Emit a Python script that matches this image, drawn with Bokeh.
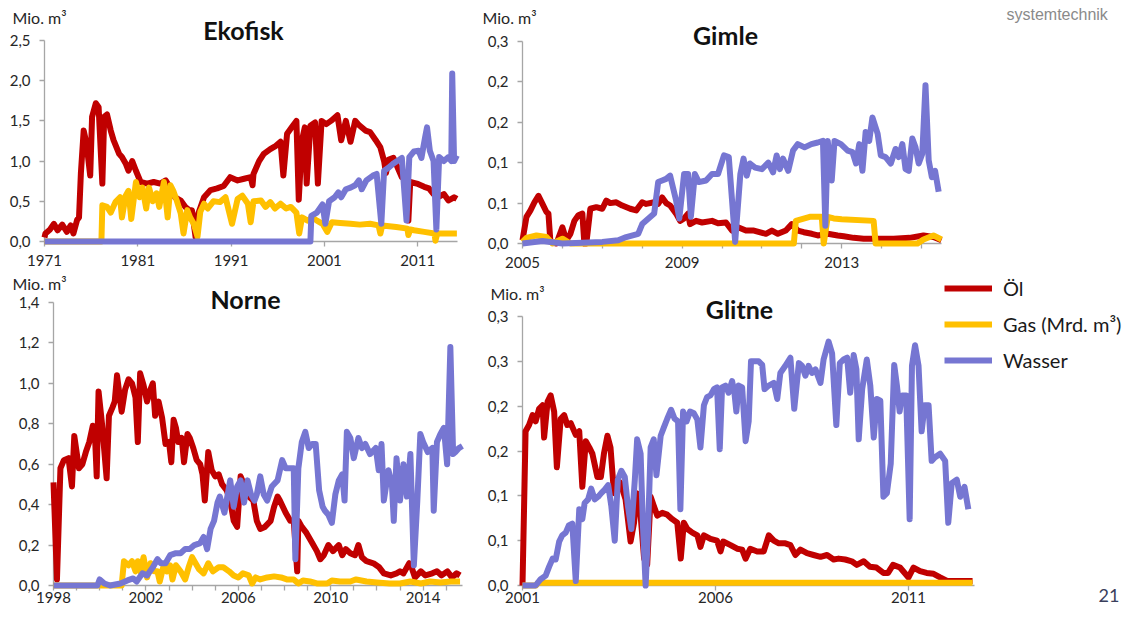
from bokeh.plotting import figure
from bokeh.layouts import column, row
from bokeh.models import Range1d, FixedTicker, Label, Legend, LegendItem
from bokeh.embed import file_html
from bokeh.resources import INLINE

# ---------------- DATA (year, value in Mio. m3) ----------------
eko_oil = [(1971.0, 0.05), (1971.1, 0.10), (1971.6, 0.15), (1972.0, 0.22), (1972.4, 0.14), (1972.9, 0.21),
           (1973.4, 0.12), (1973.8, 0.20), (1974.1, 0.10), (1974.5, 0.27), (1974.7, 0.30), (1974.9, 0.85),
           (1975.2, 1.38), (1975.5, 1.22), (1975.9, 0.82), (1976.1, 1.55), (1976.5, 1.72), (1976.8, 1.67),
           (1977.2, 0.72), (1977.4, 1.55), (1977.7, 1.58), (1978.1, 1.38), (1978.4, 1.26), (1979.0, 1.09),
           (1979.3, 1.05), (1979.7, 0.97), (1980.0, 0.88), (1980.4, 1.00), (1980.8, 0.88), (1981.3, 0.74),
           (1982.0, 0.72), (1982.7, 0.74), (1983.4, 0.72), (1984.0, 0.76), (1984.5, 0.66), (1985.0, 0.55),
           (1985.6, 0.51), (1986.1, 0.43), (1986.5, 0.39), (1986.8, 0.39), (1987.2, 0.05), (1987.5, 0.35),
           (1988.1, 0.55), (1988.8, 0.64), (1989.5, 0.66), (1990.2, 0.69), (1990.9, 0.80), (1991.7, 0.76),
           (1992.4, 0.78), (1993.1, 0.80), (1993.3, 0.70), (1993.4, 0.84), (1994.0, 1.00), (1994.5, 1.09),
           (1995.2, 1.15), (1995.8, 1.19), (1996.3, 1.24), (1996.6, 0.82), (1997.0, 1.34), (1997.5, 1.42),
           (1998.0, 1.50), (1998.25, 0.52), (1998.6, 1.26), (1998.9, 1.42), (1999.1, 0.72), (1999.5, 1.44),
           (2000.0, 1.48), (2000.3, 0.72), (2000.7, 1.50), (2001.2, 1.46), (2001.7, 1.50), (2002.4, 1.57),
           (2002.8, 1.26), (2003.3, 1.50), (2003.8, 1.24), (2004.3, 1.50), (2004.7, 1.45), (2005.4, 1.38),
           (2005.9, 1.36), (2006.5, 1.26), (2007.0, 1.17), (2007.4, 1.00), (2007.6, 0.85), (2007.9, 1.02),
           (2008.4, 1.04), (2009.0, 0.88), (2009.3, 0.80), (2009.9, 0.76), (2010.0, 0.26), (2010.2, 0.74),
           (2010.9, 0.72), (2011.7, 0.68), (2012.2, 0.66), (2012.7, 0.59), (2013.3, 0.56), (2013.8, 0.59),
           (2014.3, 0.51), (2014.9, 0.55), (2015.2, 0.53)]
eko_gas = [(1971.0, 0.0), (1977.1, 0.0), (1977.2, 0.45), (1977.7, 0.43), (1978.1, 0.36), (1978.6, 0.49),
           (1979.1, 0.55), (1979.3, 0.30), (1979.7, 0.57), (1980.0, 0.63), (1980.3, 0.28), (1980.8, 0.74),
           (1981.2, 0.55), (1981.5, 0.67), (1981.9, 0.41), (1982.2, 0.67), (1982.6, 0.50), (1983.0, 0.60),
           (1983.3, 0.43), (1983.8, 0.74), (1984.2, 0.30), (1984.5, 0.70), (1984.8, 0.63), (1985.2, 0.50),
           (1985.6, 0.35), (1985.9, 0.10), (1986.3, 0.39), (1986.6, 0.30), (1987.0, 0.22), (1987.4, 0.06),
           (1987.7, 0.37), (1988.1, 0.47), (1988.5, 0.41), (1989.1, 0.50), (1989.8, 0.49), (1990.4, 0.55),
           (1991.1, 0.22), (1991.7, 0.53), (1992.2, 0.57), (1992.8, 0.47), (1993.1, 0.24), (1993.4, 0.50),
           (1994.2, 0.51), (1994.7, 0.43), (1995.2, 0.49), (1995.7, 0.41), (1996.3, 0.47), (1996.9, 0.41),
           (1997.4, 0.43), (1998.0, 0.36), (1998.3, 0.10), (1998.6, 0.30), (1999.2, 0.26), (1999.7, 0.30),
           (2000.2, 0.26), (2000.8, 0.22), (2001.3, 0.12), (2001.8, 0.24), (2002.7, 0.23), (2003.8, 0.22),
           (2004.8, 0.21), (2005.9, 0.22), (2006.8, 0.20), (2007.0, 0.10), (2007.2, 0.20), (2008.7, 0.18),
           (2009.9, 0.16), (2010.0, 0.08), (2010.2, 0.15), (2010.6, 0.14), (2011.7, 0.12), (2012.8, 0.10),
           (2012.9, 0.01), (2013.1, 0.10), (2014.1, 0.10), (2015.2, 0.10)]
eko_water = [(1971.0, 0.0), (1999.5, 0.0), (1999.6, 0.32), (2000.2, 0.36), (2000.8, 0.46), (2001.1, 0.22),
             (2001.5, 0.50), (2002.1, 0.55), (2002.5, 0.61), (2002.8, 0.55), (2003.3, 0.65), (2003.8, 0.67),
             (2004.3, 0.70), (2004.7, 0.76), (2005.0, 0.65), (2005.5, 0.76), (2006.2, 0.82), (2006.6, 0.84),
             (2007.1, 0.22), (2007.4, 0.88), (2007.9, 0.92), (2008.4, 0.97), (2008.8, 1.00), (2009.3, 1.04),
             (2009.8, 0.26), (2010.1, 1.05), (2010.6, 1.12), (2011.1, 1.13), (2011.4, 1.04), (2011.8, 1.30),
             (2012.0, 1.42), (2012.3, 1.13), (2012.7, 1.00), (2013.0, 0.15), (2013.3, 1.05), (2013.8, 1.00),
             (2014.3, 1.05), (2014.6, 1.00), (2014.7, 2.09), (2014.9, 1.00), (2015.2, 1.07)]

gim_oil = [(2005.0, 0.004), (2005.1, 0.033), (2005.2, 0.041), (2005.3, 0.051), (2005.4, 0.059), (2005.5, 0.049),
           (2005.6, 0.039), (2005.65, 0.037), (2005.7, 0.002), (2005.85, 0.0), (2006.0, 0.020), (2006.1, 0.004),
           (2006.2, 0.012), (2006.3, 0.028), (2006.4, 0.035), (2006.5, 0.037), (2006.55, 0.0), (2006.6, 0.0),
           (2006.7, 0.043), (2006.85, 0.045), (2007.0, 0.043), (2007.1, 0.053), (2007.2, 0.050), (2007.35, 0.051),
           (2007.5, 0.047), (2007.7, 0.043), (2007.85, 0.041), (2008.0, 0.051), (2008.1, 0.049), (2008.3, 0.051),
           (2008.4, 0.049), (2008.5, 0.057), (2008.6, 0.050), (2008.7, 0.047), (2008.85, 0.037), (2008.95, 0.028),
           (2009.05, 0.031), (2009.15, 0.037), (2009.2, 0.024), (2009.35, 0.028), (2009.5, 0.026), (2009.75, 0.028),
           (2009.9, 0.025), (2010.1, 0.026), (2010.25, 0.016), (2010.4, 0.020), (2010.6, 0.016), (2010.8, 0.016),
           (2011.1, 0.012), (2011.25, 0.016), (2011.4, 0.012), (2011.6, 0.016), (2011.75, 0.024), (2011.9, 0.016),
           (2012.05, 0.014), (2012.25, 0.012), (2012.4, 0.010), (2012.65, 0.012), (2012.9, 0.010), (2013.05, 0.009),
           (2013.3, 0.007), (2013.55, 0.006), (2013.9, 0.006), (2014.3, 0.006), (2014.7, 0.007), (2015.05, 0.010),
           (2015.3, 0.008), (2015.5, 0.004)]
gim_gas = [(2005.0, 0.002), (2005.1, 0.007), (2005.35, 0.010), (2005.6, 0.008), (2005.75, 0.0), (2006.0, 0.006),
           (2006.2, 0.0), (2011.8, 0.0), (2011.85, 0.028), (2012.2, 0.033), (2012.5, 0.033), (2012.55, 0.0),
           (2012.65, 0.033), (2012.8, 0.031), (2013.0, 0.030), (2013.8, 0.028), (2013.85, 0.0), (2014.9, 0.0),
           (2015.05, 0.005), (2015.3, 0.010), (2015.5, 0.005)]
gim_water = [(2005.0, 0.0), (2005.5, 0.003), (2006.0, 0.0), (2007.0, 0.002), (2007.4, 0.004), (2007.6, 0.008),
             (2007.9, 0.012), (2008.0, 0.024), (2008.3, 0.037), (2008.4, 0.076), (2008.5, 0.078), (2008.6, 0.080),
             (2008.7, 0.084), (2008.85, 0.053), (2008.93, 0.031), (2009.05, 0.086), (2009.15, 0.086), (2009.22, 0.033),
             (2009.32, 0.086), (2009.42, 0.076), (2009.6, 0.078), (2009.75, 0.086), (2009.9, 0.086), (2010.05, 0.109),
             (2010.17, 0.107), (2010.33, 0.002), (2010.46, 0.086), (2010.54, 0.105), (2010.62, 0.084), (2010.7, 0.099),
             (2010.83, 0.094), (2011.0, 0.092), (2011.16, 0.100), (2011.28, 0.088), (2011.37, 0.109), (2011.45, 0.092),
             (2011.53, 0.105), (2011.66, 0.090), (2011.78, 0.115), (2011.9, 0.123), (2012.07, 0.119), (2012.24, 0.123),
             (2012.4, 0.125), (2012.53, 0.127), (2012.59, 0.022), (2012.65, 0.127), (2012.75, 0.078), (2012.82, 0.127),
             (2012.98, 0.123), (2013.15, 0.115), (2013.27, 0.113), (2013.36, 0.099), (2013.44, 0.123), (2013.52, 0.090),
             (2013.6, 0.138), (2013.69, 0.127), (2013.77, 0.156), (2013.9, 0.136), (2013.98, 0.109), (2014.1, 0.107),
             (2014.23, 0.099), (2014.35, 0.117), (2014.43, 0.107), (2014.52, 0.123), (2014.6, 0.092), (2014.68, 0.090),
             (2014.77, 0.130), (2014.85, 0.119), (2014.93, 0.099), (2015.02, 0.111), (2015.1, 0.196), (2015.18, 0.103),
             (2015.26, 0.082), (2015.34, 0.090), (2015.43, 0.064)]

nor_oil = [(1998.0, 0.51), (1998.15, 0.03), (1998.3, 0.58), (1998.45, 0.62), (1998.65, 0.63), (1998.8, 0.49),
           (1998.9, 0.74), (1999.1, 0.58), (1999.25, 0.60), (1999.4, 0.66), (1999.55, 0.71), (1999.7, 0.79),
           (1999.8, 0.73), (1999.87, 0.54), (1999.95, 0.96), (2000.1, 0.80), (2000.3, 0.53), (2000.4, 0.84),
           (2000.55, 0.88), (2000.65, 0.91), (2000.75, 1.04), (2000.95, 0.86), (2001.1, 0.97), (2001.25, 1.02),
           (2001.4, 1.00), (2001.55, 0.93), (2001.65, 0.71), (2001.75, 1.05), (2001.9, 0.99), (2002.05, 0.91),
           (2002.2, 0.97), (2002.3, 1.00), (2002.4, 0.84), (2002.55, 0.91), (2002.7, 0.83), (2002.85, 0.70),
           (2003.0, 0.71), (2003.1, 0.61), (2003.2, 0.82), (2003.3, 0.78), (2003.4, 0.71), (2003.55, 0.73),
           (2003.65, 0.61), (2003.8, 0.75), (2003.9, 0.73), (2004.05, 0.68), (2004.2, 0.62), (2004.35, 0.60),
           (2004.45, 0.55), (2004.55, 0.42), (2004.7, 0.66), (2004.85, 0.57), (2005.0, 0.54), (2005.15, 0.55),
           (2005.3, 0.50), (2005.5, 0.47), (2005.65, 0.42), (2005.8, 0.32), (2005.95, 0.29), (2006.1, 0.54),
           (2006.25, 0.50), (2006.45, 0.44), (2006.65, 0.42), (2006.8, 0.32), (2006.95, 0.28), (2007.15, 0.29),
           (2007.4, 0.32), (2007.55, 0.39), (2007.7, 0.44), (2007.8, 0.42), (2008.05, 0.36), (2008.25, 0.32),
           (2008.4, 0.32), (2008.55, 0.07), (2008.6, 0.32), (2008.75, 0.29), (2008.95, 0.26), (2009.2, 0.21),
           (2009.4, 0.17), (2009.55, 0.13), (2009.7, 0.15), (2009.9, 0.20), (2010.1, 0.17), (2010.35, 0.20),
           (2010.5, 0.15), (2010.65, 0.18), (2010.85, 0.16), (2011.05, 0.15), (2011.2, 0.20), (2011.35, 0.14),
           (2011.55, 0.12), (2011.85, 0.11), (2012.1, 0.09), (2012.3, 0.06), (2012.6, 0.05), (2012.85, 0.06),
           (2013.0, 0.07), (2013.15, 0.06), (2013.4, 0.11), (2013.5, 0.09), (2013.65, 0.04), (2013.9, 0.07),
           (2014.1, 0.05), (2014.4, 0.06), (2014.6, 0.07), (2014.8, 0.05), (2015.05, 0.07), (2015.25, 0.04),
           (2015.45, 0.06), (2015.6, 0.05)]
nor_gas = [(1998.0, 0.0), (2000.95, 0.0), (2001.05, 0.12), (2001.25, 0.10), (2001.4, 0.12), (2001.55, 0.07),
           (2001.65, 0.12), (2001.75, 0.07), (2001.9, 0.14), (2002.05, 0.04), (2002.2, 0.11), (2002.35, 0.07),
           (2002.5, 0.07), (2002.6, 0.02), (2002.75, 0.09), (2002.9, 0.07), (2003.05, 0.10), (2003.15, 0.03),
           (2003.3, 0.10), (2003.5, 0.07), (2003.7, 0.03), (2003.85, 0.09), (2004.0, 0.14), (2004.15, 0.11),
           (2004.3, 0.08), (2004.5, 0.06), (2004.7, 0.11), (2004.9, 0.07), (2005.15, 0.09), (2005.35, 0.09),
           (2005.6, 0.07), (2005.8, 0.05), (2006.0, 0.04), (2006.2, 0.06), (2006.45, 0.05), (2006.6, 0.01),
           (2006.75, 0.04), (2006.95, 0.03), (2007.25, 0.04), (2007.55, 0.045), (2007.85, 0.04), (2008.1, 0.03),
           (2008.4, 0.03), (2008.6, 0.01), (2008.8, 0.025), (2009.1, 0.02), (2009.4, 0.01), (2009.85, 0.01),
           (2010.05, 0.025), (2010.4, 0.02), (2010.85, 0.02), (2011.1, 0.03), (2011.55, 0.02), (2012.0, 0.015),
           (2012.55, 0.01), (2013.0, 0.01), (2013.45, 0.02), (2013.9, 0.01), (2014.3, 0.02), (2014.75, 0.015),
           (2015.2, 0.02), (2015.6, 0.02)]
nor_water = [(1998.0, 0.0), (1999.9, 0.0), (2000.0, 0.03), (2000.2, 0.01), (2000.45, 0.0), (2000.9, 0.01),
             (2001.2, 0.025), (2001.45, 0.035), (2001.6, 0.02), (2001.85, 0.06), (2002.05, 0.05), (2002.3, 0.09),
             (2002.5, 0.13), (2002.65, 0.11), (2002.85, 0.11), (2003.05, 0.15), (2003.3, 0.16), (2003.5, 0.16),
             (2003.7, 0.18), (2003.9, 0.18), (2004.1, 0.20), (2004.35, 0.21), (2004.5, 0.24), (2004.65, 0.18),
             (2004.8, 0.28), (2004.95, 0.32), (2005.1, 0.41), (2005.2, 0.44), (2005.4, 0.36), (2005.65, 0.52),
             (2005.8, 0.39), (2005.95, 0.49), (2006.1, 0.52), (2006.25, 0.41), (2006.4, 0.52), (2006.55, 0.45),
             (2006.7, 0.42), (2006.8, 0.45), (2006.95, 0.54), (2007.1, 0.45), (2007.25, 0.42), (2007.45, 0.49),
             (2007.7, 0.52), (2007.9, 0.62), (2008.05, 0.58), (2008.25, 0.58), (2008.4, 0.58), (2008.47, 0.13),
             (2008.6, 0.58), (2008.75, 0.71), (2008.9, 0.76), (2009.05, 0.68), (2009.2, 0.70), (2009.35, 0.70),
             (2009.5, 0.47), (2009.65, 0.39), (2009.75, 0.37), (2009.9, 0.35), (2010.05, 0.31), (2010.2, 0.45),
             (2010.35, 0.52), (2010.5, 0.55), (2010.6, 0.42), (2010.7, 0.76), (2010.85, 0.73), (2011.0, 0.63),
             (2011.2, 0.73), (2011.35, 0.68), (2011.5, 0.70), (2011.7, 0.65), (2011.95, 0.68), (2012.08, 0.57),
             (2012.2, 0.70), (2012.3, 0.42), (2012.5, 0.57), (2012.65, 0.50), (2012.73, 0.32), (2012.85, 0.63),
             (2013.0, 0.42), (2013.15, 0.60), (2013.3, 0.44), (2013.45, 0.65), (2013.6, 0.10), (2013.75, 0.42),
             (2013.88, 0.75), (2014.0, 0.71), (2014.2, 0.66), (2014.4, 0.68), (2014.46, 0.37), (2014.6, 0.71),
             (2014.75, 0.75), (2014.9, 0.78), (2015.04, 0.60), (2015.18, 1.18), (2015.3, 0.65), (2015.4, 0.66),
             (2015.55, 0.68), (2015.7, 0.69)]

gli_oil = [(2001.0, 0.0), (2001.08, 0.172), (2001.17, 0.179), (2001.26, 0.190), (2001.34, 0.183), (2001.43, 0.197),
           (2001.52, 0.201), (2001.56, 0.165), (2001.65, 0.205), (2001.73, 0.212), (2001.82, 0.194), (2001.89, 0.132),
           (2001.99, 0.186), (2002.08, 0.190), (2002.16, 0.179), (2002.25, 0.181), (2002.38, 0.168), (2002.47, 0.172),
           (2002.55, 0.110), (2002.64, 0.161), (2002.73, 0.154), (2002.81, 0.147), (2002.94, 0.121), (2003.03, 0.121),
           (2003.11, 0.147), (2003.2, 0.167), (2003.28, 0.154), (2003.37, 0.103), (2003.46, 0.118), (2003.54, 0.114),
           (2003.67, 0.096), (2003.8, 0.049), (2003.89, 0.070), (2003.96, 0.103), (2004.06, 0.078), (2004.15, 0.030),
           (2004.23, 0.023), (2004.32, 0.099), (2004.4, 0.089), (2004.49, 0.078), (2004.62, 0.081), (2004.75, 0.079),
           (2004.88, 0.074), (2005.01, 0.070), (2005.1, 0.030), (2005.18, 0.070), (2005.27, 0.063), (2005.4, 0.059),
           (2005.53, 0.056), (2005.61, 0.043), (2005.7, 0.056), (2005.87, 0.052), (2006.04, 0.050), (2006.13, 0.038),
           (2006.2, 0.049), (2006.39, 0.045), (2006.56, 0.041), (2006.69, 0.040), (2006.78, 0.030), (2006.9, 0.041),
           (2007.08, 0.038), (2007.25, 0.038), (2007.38, 0.056), (2007.51, 0.050), (2007.64, 0.047), (2007.81, 0.047),
           (2007.94, 0.045), (2008.07, 0.034), (2008.2, 0.040), (2008.37, 0.036), (2008.54, 0.034), (2008.72, 0.032),
           (2008.89, 0.034), (2009.06, 0.029), (2009.19, 0.030), (2009.36, 0.029), (2009.53, 0.027), (2009.66, 0.023),
           (2009.84, 0.027), (2010.0, 0.021), (2010.17, 0.020), (2010.35, 0.014), (2010.47, 0.014), (2010.6, 0.023),
           (2010.78, 0.020), (2011.0, 0.009), (2011.13, 0.020), (2011.3, 0.016), (2011.47, 0.014), (2011.65, 0.013),
           (2011.82, 0.009), (2012.0, 0.005), (2012.33, 0.005), (2012.66, 0.005)]
gli_gas = [(2001.0, 0.0), (2001.35, 0.0), (2001.4, 0.003), (2003.0, 0.003), (2005.0, 0.003), (2007.0, 0.003),
           (2009.0, 0.003), (2011.0, 0.003), (2012.66, 0.003)]
gli_water = [(2001.0, 0.0), (2001.34, 0.0), (2001.47, 0.007), (2001.6, 0.011), (2001.69, 0.021), (2001.78, 0.030),
             (2001.86, 0.029), (2001.95, 0.049), (2002.03, 0.056), (2002.12, 0.059), (2002.2, 0.067), (2002.29, 0.069),
             (2002.38, 0.005), (2002.47, 0.085), (2002.55, 0.074), (2002.61, 0.092), (2002.7, 0.096), (2002.78, 0.108),
             (2002.87, 0.096), (2002.96, 0.099), (2003.04, 0.103), (2003.13, 0.107), (2003.22, 0.112), (2003.3, 0.089),
             (2003.39, 0.050), (2003.47, 0.118), (2003.56, 0.128), (2003.65, 0.121), (2003.73, 0.089), (2003.82, 0.063),
             (2003.91, 0.118), (2003.97, 0.163), (2004.06, 0.147), (2004.12, 0.067), (2004.19, 0.0), (2004.25, 0.059),
             (2004.32, 0.154), (2004.4, 0.163), (2004.47, 0.123), (2004.58, 0.167), (2004.66, 0.176), (2004.75, 0.186),
             (2004.85, 0.196), (2004.94, 0.186), (2005.03, 0.183), (2005.09, 0.085), (2005.16, 0.194), (2005.25, 0.183),
             (2005.34, 0.194), (2005.44, 0.192), (2005.53, 0.185), (2005.61, 0.154), (2005.7, 0.201), (2005.78, 0.210),
             (2005.87, 0.212), (2005.96, 0.219), (2006.04, 0.221), (2006.11, 0.152), (2006.17, 0.221), (2006.26, 0.223),
             (2006.34, 0.215), (2006.43, 0.228), (2006.49, 0.215), (2006.54, 0.194), (2006.6, 0.223), (2006.69, 0.221),
             (2006.78, 0.161), (2006.86, 0.183), (2006.92, 0.250), (2007.01, 0.250), (2007.12, 0.250), (2007.21, 0.246),
             (2007.27, 0.219), (2007.38, 0.223), (2007.51, 0.226), (2007.6, 0.208), (2007.68, 0.237), (2007.81, 0.245),
             (2007.94, 0.254), (2008.04, 0.197), (2008.16, 0.248), (2008.24, 0.245), (2008.33, 0.234), (2008.41, 0.245),
             (2008.5, 0.237), (2008.59, 0.241), (2008.72, 0.226), (2008.8, 0.252), (2008.93, 0.272), (2009.02, 0.259),
             (2009.13, 0.179), (2009.22, 0.248), (2009.32, 0.252), (2009.41, 0.254), (2009.49, 0.215), (2009.58, 0.257),
             (2009.65, 0.241), (2009.71, 0.163), (2009.8, 0.219), (2009.92, 0.252), (2010.01, 0.223), (2010.1, 0.165),
             (2010.18, 0.208), (2010.27, 0.206), (2010.35, 0.099), (2010.44, 0.103), (2010.54, 0.136), (2010.63, 0.246),
             (2010.7, 0.223), (2010.77, 0.194), (2010.83, 0.212), (2010.94, 0.212), (2011.03, 0.074), (2011.09, 0.245),
             (2011.17, 0.268), (2011.26, 0.245), (2011.34, 0.172), (2011.42, 0.201), (2011.52, 0.201), (2011.6, 0.139),
             (2011.69, 0.143), (2011.82, 0.147), (2011.95, 0.139), (2012.03, 0.070), (2012.12, 0.114), (2012.25, 0.118),
             (2012.34, 0.099), (2012.45, 0.110), (2012.55, 0.085)]

# tick labels
eko_xticks = [1971, 1981, 1991, 2001, 2011]
eko_yticks = [0, 0.5, 1, 1.5, 2, 2.5]
eko_ylabels = ["0,0", "0,5", "1,0", "1,5", "2,0", "2,5"]
gim_xticks = list(range(2005, 2016))
gim_xlabeled = [2005, 2009, 2013]
gim_yticks = [0, 0.05, 0.1, 0.15, 0.2, 0.25]
gim_ylabels = ["0,0", "0,1", "0,1", "0,2", "0,2", "0,3"]
nor_xticks = list(range(1998, 2016))
nor_xlabeled = [1998, 2002, 2006, 2010, 2014]
nor_yticks = [0, 0.2, 0.4, 0.6, 0.8, 1, 1.2, 1.4]
nor_ylabels = ["0,0", "0,2", "0,4", "0,6", "0,8", "1,0", "1,2", "1,4"]
gli_xticks = [2001, 2006, 2011]
gli_xlabeled = [2001, 2006, 2011]
gli_yticks = [0, 0.05, 0.1, 0.15, 0.2, 0.25, 0.3]
gli_ylabels = ["0,0", "0,1", "0,1", "0,2", "0,2", "0,3", "0,3"]

series_names = ["Öl", "Gas (Mrd. m³)", "Wasser"]

# ---------------- STYLE ----------------
OIL, GAS, WATER = "#C00000", "#FFC000", "#7676D2"
AXIS = "#A6A6A6"
FONT = "Lato"
TXT = "#262626"
LW = 6


def panel(W, H, ox, oy, x0, px0, ppy, y_top, py0, pyt, x_axis_end, xticks, xlabeled, yticks, ylabels,
          xstandoff, series):
    """Whole figure is the frame; axes sit at fixed data locations.
    (ox, oy): page position of the figure; px0: page x of x0; py0 / pyt: page y of 0 / y_top."""
    fx0, fy0, fyt = px0 - ox, py0 - oy, pyt - oy
    xs0 = x0 - fx0 / ppy
    xs1 = xs0 + W / ppy
    scale = (fy0 - fyt) / y_top
    ys0 = -(H - fy0) / scale
    ys1 = y_top + fyt / scale
    p = figure(width=W, height=H, x_range=Range1d(xs0, xs1), y_range=Range1d(ys0, ys1),
               output_backend="svg", toolbar_location=None,
               min_border=0, min_border_left=0, min_border_right=0, min_border_top=0, min_border_bottom=0)
    p.title.visible = False
    p.outline_line_color = None
    p.xgrid.visible = False
    p.ygrid.visible = False
    p.background_fill_color = "white"
    p.border_fill_color = "white"
    for ax in (p.xaxis[0], p.yaxis[0]):
        ax.level = "underlay"
        ax.axis_line_color = AXIS
        ax.axis_line_width = 1.3
        ax.major_tick_line_color = AXIS
        ax.major_tick_line_width = 1.3
        ax.major_tick_out = 5
        ax.major_tick_in = 0
        ax.minor_tick_line_color = None
        ax.major_label_text_font = FONT
        ax.major_label_text_font_size = "15px"
        ax.major_label_text_color = TXT
    xa, ya = p.xaxis[0], p.yaxis[0]
    xa.fixed_location = 0
    xa.ticker = FixedTicker(ticks=xticks)
    xa.major_label_overrides = {t: (str(t) if t in xlabeled else "") for t in xticks}
    xa.major_label_standoff = xstandoff
    xa.bounds = (x0, x_axis_end)
    ya.fixed_location = x0
    ya.ticker = FixedTicker(ticks=yticks)
    ya.major_label_overrides = {t: lab for t, lab in zip(yticks, ylabels)}
    ya.major_label_standoff = 9
    ya.bounds = (0, y_top)
    renderers = []
    for data, col in zip(series, (OIL, GAS, WATER)):
        xs = [d[0] for d in data]
        ys = [d[1] for d in data]
        renderers.append(p.line(xs, ys, line_color=col, line_width=LW, line_join="round"))
    return p, renderers


def text(p, W, H, ox, oy, px, py, s, size, bold=False, align="left", color=TXT, font=FONT):
    # px, py: page position; converted to screen units of the figure (from its bottom-left)
    p.add_layout(Label(x=px - ox, y=H - (py - oy), x_units="screen", y_units="screen", text=s, text_font=font,
                       text_font_size=size, text_font_style="bold" if bold else "normal",
                       text_align=align, text_baseline="middle", text_color=color))


# ---------------- PANELS ----------------
W1, W2 = 478, 649
H1, H2 = 272, 333
X2, Y2 = W1, H1          # page origin of right column / lower row

pA, _ = panel(W1, H1, 0, 0, 1971, 44, 9.33, 2.5, 241, 40, 2015.3, eko_xticks, eko_xticks,
              eko_yticks, eko_ylabels, 8, [eko_oil, eko_gas, eko_water])
text(pA, W1, H1, 0, 0, 12, 17, "Mio. m³", "16px")
text(pA, W1, H1, 0, 0, 243, 29, "Ekofisk", "25px", bold=True, align="center", color="#111111")

pB, _ = panel(W2, H1, X2, 0, 2005, 522, 39.9, 0.25, 243, 41, 2015.5, gim_xticks, gim_xlabeled,
              gim_yticks, gim_ylabels, 8, [gim_oil, gim_gas, gim_water])
text(pB, W2, H1, X2, 0, 482, 17, "Mio. m³", "16px")
text(pB, W2, H1, X2, 0, 725, 34, "Gimle", "25px", bold=True, align="center", color="#111111")
text(pB, W2, H1, X2, 0, 1006, 14, "systemtechnik", "16px", color="#8A8A8A", font="Liberation Sans")

pC, _ = panel(W1, H2, 0, Y2, 1998, 53, 23.1, 1.4, 585, 302, 2015.7, nor_xticks, nor_xlabeled,
              nor_yticks, nor_ylabels, 1, [nor_oil, nor_gas, nor_water])
text(pC, W1, H2, 0, Y2, 12, 283, "Mio. m³", "16px")
text(pC, W1, H2, 0, Y2, 245, 298, "Norne", "25px", bold=True, align="center", color="#111111")

pD, rD = panel(W2, H2, X2, Y2, 2001, 522, 38.6, 0.3, 585, 316, 2012.7, gli_xticks, gli_xlabeled,
               gli_yticks, gli_ylabels, 1, [gli_oil, gli_gas, gli_water])
text(pD, W2, H2, X2, Y2, 490, 293, "Mio. m³", "16px")
text(pD, W2, H2, X2, Y2, 739, 308, "Glitne", "25px", bold=True, align="center", color="#111111")
text(pD, W2, H2, X2, Y2, 1098, 595, "21", "18px", color="#3A3F5C")

legend = Legend(items=[LegendItem(label=n, renderers=[r]) for n, r in zip(series_names, rD)],
                location=(945 - X2 - 1, (Y2 + H2) - 372), orientation="vertical",
                glyph_width=48, glyph_height=20, label_height=20, label_standoff=11, spacing=12,
                padding=0, margin=0, border_line_color=None, background_fill_alpha=0,
                label_text_font=FONT, label_text_font_size="20px", label_text_color="#1a1a1a")
pD.add_layout(legend)

layout = column(row(pA, pB), row(pC, pD))
open("out.html", "w").write(file_html(layout, INLINE))
